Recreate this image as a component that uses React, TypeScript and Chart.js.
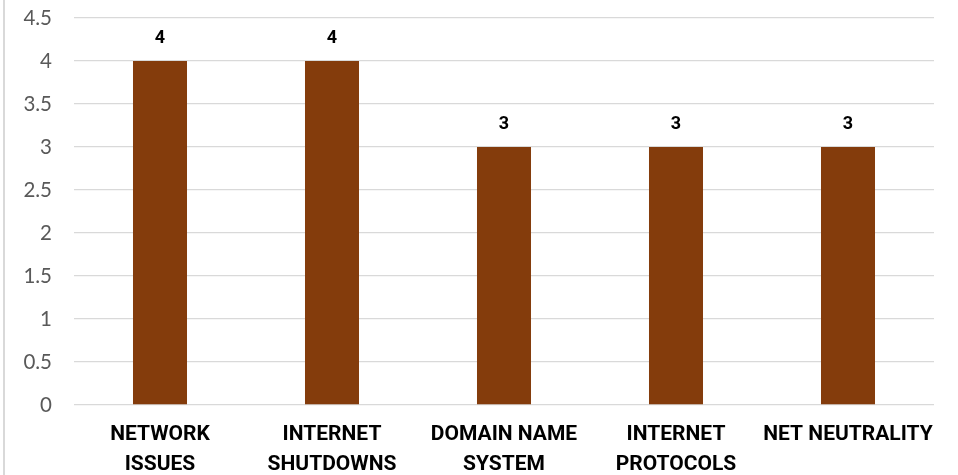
import React, { useEffect, useRef } from "react";
import { Chart, registerables } from "chart.js";

Chart.register(...registerables);

const categories: string[][] = [
  ["NETWORK", "ISSUES"],
  ["INTERNET", "SHUTDOWNS"],
  ["DOMAIN NAME", "SYSTEM"],
  ["INTERNET", "PROTOCOLS"],
  ["NET NEUTRALITY"],
];
const values: number[] = [4, 4, 3, 3, 3];
const yMin = 0;
const yMax = 4.5;
const yStep = 0.5;

const FONT = "Lato, 'Open Sans', sans-serif";
const BOLD_FONT = "Roboto, 'Open Sans', sans-serif";

const dataLabelPlugin = {
  id: "dataLabels",
  afterDatasetsDraw(chart: any) {
    const ctx = chart.ctx;
    ctx.save();
    ctx.font = `bold 18px ${BOLD_FONT}`;
    ctx.fillStyle = "#000000";
    ctx.textAlign = "center";
    ctx.textBaseline = "middle";
    chart.data.datasets.forEach((ds: any, i: number) => {
      const meta = chart.getDatasetMeta(i);
      meta.data.forEach((el: any, j: number) => {
        ctx.fillText(String(ds.data[j]), el.x, el.y - 23);
      });
    });
    ctx.restore();
  },
};

const borderPlugin = {
  id: "leftBorder",
  beforeDraw(chart: any) {
    const ctx = chart.ctx;
    ctx.save();
    ctx.fillStyle = "#ffffff";
    ctx.fillRect(0, 0, chart.width, chart.height);
    ctx.fillStyle = "#d9d9d9";
    ctx.fillRect(3, 0, 2, chart.height);
    ctx.restore();
  },
};

export default function App() {
  const canvasRef = useRef<HTMLCanvasElement>(null);

  useEffect(() => {
    document.body.style.margin = "0";
    const canvas = canvasRef.current;
    if (!canvas) return;
    const chart = new Chart(canvas, {
      type: "bar",
      data: {
        labels: categories,
        datasets: [
          {
            data: values,
            backgroundColor: "#843C0C",
            borderWidth: 0,
            categoryPercentage: 1,
            barPercentage: 0.314,
          },
        ],
      },
      options: {
        animation: false,
        responsive: false,
        maintainAspectRatio: false,
        layout: { padding: { top: 18, right: 24, left: 0, bottom: 0 } },
        plugins: {
          legend: { display: false },
          tooltip: { enabled: false },
        },
        scales: {
          x: {
            grid: { display: false, drawTicks: false },
            border: { display: false },
            ticks: {
              color: "#000000",
              font: { family: BOLD_FONT, size: 21, weight: "bold", lineHeight: 1.43 },
              padding: 15,
              maxRotation: 0,
              autoSkip: false,
            },
            afterFit(scale: any) {
              scale.height = 70;
              scale.paddingTop = 0;
              scale.paddingBottom = 0;
              scale.paddingLeft = 0;
              scale.paddingRight = 0;
            },
          },
          y: {
            min: yMin,
            max: yMax,
            grid: { color: "#d9d9d9", lineWidth: 1.3, drawTicks: false },
            border: { display: false },
            ticks: {
              stepSize: yStep,
              color: "#595959",
              font: { family: FONT, size: 20.5 },
              padding: 22,
              callback: (v: any) => String(v),
            },
            afterFit(scale: any) {
              scale.width = 74;
              scale.paddingTop = 0;
              scale.paddingBottom = 0;
            },
          },
        },
      },
      plugins: [dataLabelPlugin, borderPlugin],
    });
    return () => chart.destroy();
  }, []);

  return (
    <div style={{ position: "absolute", left: 0, top: 0, width: 958, height: 475 }}>
      <canvas ref={canvasRef} width={958} height={475} style={{ width: 958, height: 475 }} />
    </div>
  );
}
